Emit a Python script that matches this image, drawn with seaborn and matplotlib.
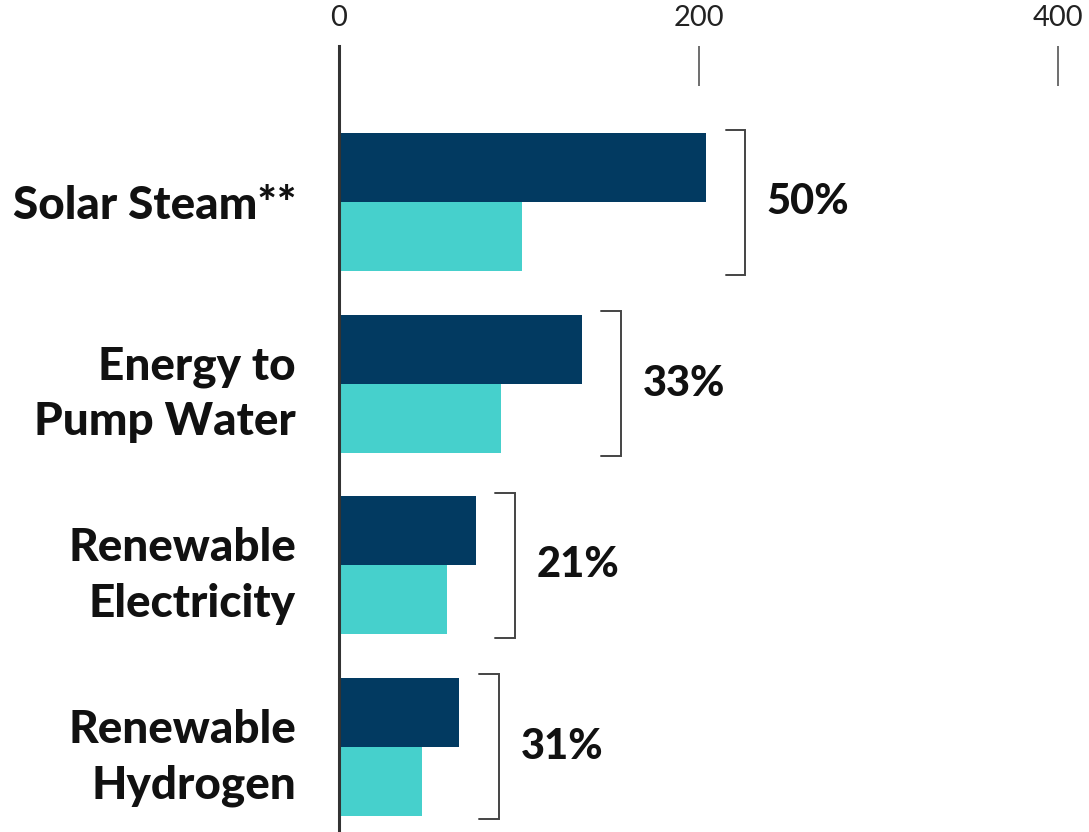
import matplotlib
matplotlib.use("Agg")
import matplotlib.pyplot as plt
import seaborn as sns
import pandas as pd

# Data
categories = ["Solar Steam**", "Energy to\nPump Water", "Renewable\nElectricity", "Renewable\nHydrogen"]
before_values = [204, 135, 76, 67]
after_values = [102, 90, 60, 46]
reduction_labels = ["50%", "33%", "21%", "31%"]
x_ticks = [0, 200, 400]

DARK = "#023a61"
TEAL = "#46d0cc"

sns.set_theme(style="white")
plt.rcParams["font.family"] = ["Lato", "DejaVu Sans"]

df = pd.DataFrame({
    "category": categories * 2,
    "series": ["before"] * len(categories) + ["after"] * len(categories),
    "value": before_values + after_values,
})

fig = plt.figure(figsize=(10.89, 8.32), dpi=100)
ax = fig.add_axes([339 / 1089, 0.0, 1 - 339 / 1089, 1 - 46 / 832])

sns.barplot(data=df, y="category", x="value", hue="series",
            hue_order=["before", "after"], palette=[DARK, TEAL],
            order=categories, orient="h", width=0.76, saturation=1,
            dodge=True, legend=False, ax=ax, linewidth=0)

ax.set_xlim(0, 417.2)
ax.set_ylim(3.47, -0.86)
ax.set_xlabel("")
ax.set_ylabel("")

# Top axis with inward ticks
ax.xaxis.tick_top()
ax.set_xticks(x_ticks)
ax.set_xticklabels([str(t) for t in x_ticks], fontsize=21, color="#222222")
ax.tick_params(axis="x", direction="in", length=29, width=1.2, color="#555555",
               pad=11, top=True, bottom=False)
ax.tick_params(axis="y", length=0, pad=31)
for lab in ax.get_yticklabels():
    lab.set_fontsize(33)
    lab.set_fontweight("black")
    lab.set_color("#111111")
    lab.set_horizontalalignment("right")
    lab.set_linespacing(1.4)

for side in ["top", "right", "bottom"]:
    ax.spines[side].set_visible(False)
ax.spines["left"].set_color("#333333")
ax.spines["left"].set_linewidth(2.2)

# Brackets spanning each pair of bars with the reduction label
half = 0.76 / 2 + 0.02
for i, (b, lab) in enumerate(zip(before_values, reduction_labels)):
    xb = b + 22
    ax.plot([xb - 11, xb, xb, xb - 11], [i - half, i - half, i + half, i + half],
            color="#444444", lw=1.4, solid_joinstyle="miter", clip_on=False)
    ax.text(xb + 12, i, lab, va="center", ha="left", fontsize=30,
            fontweight="black", color="#111111")

fig.savefig("out.png", dpi=100)
